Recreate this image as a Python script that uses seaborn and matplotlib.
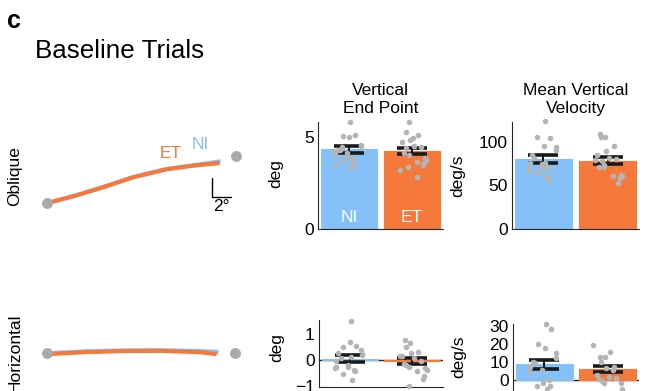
import matplotlib
matplotlib.use("Agg")
import matplotlib.pyplot as plt
import numpy as np
import pandas as pd
import seaborn as sns

# ---- data ----
groups = ["NI", "ET"]

# trajectories (deg), start at origin
obl_target = (19.9, 4.95)
obl_ni_x = [0.0, 3.0, 5.6, 9.1, 12.6, 15.4, 18.3]
obl_ni_y = [0.0, 0.82, 1.6, 2.76, 3.6, 4.0, 4.42]
obl_et_x = [0.0, 3.0, 5.6, 9.1, 12.6, 15.4, 18.2]
obl_et_y = [0.0, 0.8, 1.58, 2.74, 3.58, 3.96, 4.24]

hor_target = (19.8, 0.0)
hor_ni_x = [0.0, 4.0, 8.0, 12.0, 16.0, 18.1]
hor_ni_y = [0.0, 0.2, 0.3, 0.32, 0.24, 0.15]
hor_et_x = [0.0, 4.0, 8.0, 12.0, 16.0, 17.9]
hor_et_y = [-0.1, 0.12, 0.24, 0.26, 0.12, -0.08]

# vertical end point (deg)
vend_mean = [4.35, 4.25]
vend_sem = [0.19, 0.18]
vend_ni = [5.83, 5.14, 5.05, 5.02, 4.57, 4.51, 4.29, 4.29, 4.11, 4.11, 4.02,
           3.9, 3.84, 3.75, 3.57, 3.57, 3.48, 3.39, 4.45]
vend_et = [5.83, 5.29, 5.1, 4.84, 4.75, 4.95, 4.47, 4.4, 4.11, 4.02, 3.84,
           3.75, 3.65, 3.6, 3.48, 3.37, 3.21, 2.81, 4.5]

# mean vertical velocity (deg/s)
vvel_mean = [80.0, 78.0]
vvel_sem = [4.5, 4.0]
vvel_ni = [124, 104, 105, 94.7, 90.8, 94, 85, 81, 75.5, 74.4, 67.9, 69.8,
           69.8, 64, 56.4, 61, 68.6, 75.5]
vvel_et = [109, 105.4, 105, 94.7, 89, 85, 81, 80, 77.4, 71, 71, 62.1, 61,
           60.2, 58.3, 52.5, 73.6, 79.4]

# horizontal end point (deg)
hend_mean = [0.05, -0.04]
hend_sem = [0.15, 0.11]
hend_ni = [1.51, 0.55, 0.51, 0.7, 0.38, 0.19, 0.26, 0.06, -0.06, -0.19,
           -0.26, -0.26, -0.38, -0.54, -0.45, -0.77, -0.32, 0.1]
hend_et = [0.77, 0.64, 0.51, 0.32, 0.26, 0.13, 0.06, -0.06, -0.19, -0.15,
           -0.26, -0.32, -0.38, -0.45, -0.64, -0.73, -1.0, 0.15]

# horizontal velocity (deg/s)
hvel_mean = [8.8, 6.1]
hvel_sem = [2.5, 1.65]
hvel_ni = [30.9, 28, 20.2, 17.5, 14.7, 12, 10, 9.2, 7.4, 5.5, 4.6, -1.5, 0,
           -3.3, -3.3, -5.2]
hvel_et = [19.3, 15.3, 12.9, 12.5, 10.1, 7.4, 6.4, 2.7, 1.8, 0.9, -0.4, 0.5,
           -1.8, -1.6, -5.2, 5.5]

blue = "#85C0F9"
orange = "#F5793A"
dot_gray = "#B4B4B4"
ink = "#262626"

sns.set_style("white")
plt.rcParams["font.family"] = ["Liberation Sans", "DejaVu Sans"]
plt.rcParams["font.size"] = 12.5
plt.rcParams["text.color"] = "black"
plt.rcParams["axes.labelcolor"] = "black"

W, H = 648, 391
fig = plt.figure(figsize=(W / 100, H / 100), dpi=100)


def px_axes(x0, y0, x1, y1):
    return fig.add_axes([x0 / W, 1 - y1 / H, (x1 - x0) / W, (y1 - y0) / H])


# ---- headers ----
fig.text(7 / W, 1 - 28.5 / H, "c", fontsize=18, weight="bold", va="baseline")
fig.text(35 / W, 1 - 58.5 / H, "Baseline Trials", fontsize=18.7, va="baseline")
fig.text(15 / W, 1 - 176 / H, "Oblique", rotation=90, ha="center", va="center")
fig.text(15 / W, 1 - 352.5 / H, "Horizontal", rotation=90, ha="center", va="center")

# ---- trajectory panels ----
SCALE = 9.5  # px per deg


def traj_panel(y_start_px, top_px, bot_px, target, ni_x, ni_y, et_x, et_y):
    ax = px_axes(25, top_px, 255, bot_px)
    ax.set_xlim((25 - 46.7) / SCALE, (255 - 46.7) / SCALE)
    ax.set_ylim((y_start_px - bot_px) / SCALE, (y_start_px - top_px) / SCALE)
    ax.axis("off")
    sns.lineplot(x=ni_x, y=ni_y, sort=False, estimator=None, color=blue,
                 lw=3.0, solid_capstyle="butt", ax=ax)
    sns.lineplot(x=et_x, y=et_y, sort=False, estimator=None, color=orange,
                 lw=3.0, solid_capstyle="butt", ax=ax)
    sns.scatterplot(x=[0, target[0]], y=[0, target[1]], color="#AAAAAA",
                    s=62, linewidth=0, ax=ax, zorder=5)
    return ax


ax_o = traj_panel(203.3, 120, 230, obl_target, obl_ni_x, obl_ni_y, obl_et_x, obl_et_y)
ax_o.text(13.1, 5.2, "ET", color=orange, ha="center", va="center")
ax_o.text(16.2, 6.24, "NI", color=blue, ha="center", va="center")
# 2 deg scale bar
ax_o.plot([17.4, 17.4, 19.4], [2.66, 0.66, 0.66], color="black", lw=1)
ax_o.text(18.4, -0.35, "2°", ha="center", va="center")

traj_panel(353.3, 310, 391, hor_target, hor_ni_x, hor_ni_y, hor_et_x, hor_et_y)


# ---- bar panels ----
def bar_panel(rect, ni, et, means, sems, ylim, yticks, ylabel, lab_x, lab_y,
              title=None, zero_line=False):
    ax = px_axes(*rect)
    if zero_line:
        ax.axhline(0, color=ink, lw=1, zorder=0.5)
    sns.barplot(x=groups, y=means, hue=groups, palette=[blue, orange],
                saturation=1, width=0.9, legend=False, ax=ax, zorder=1)
    for p in ax.patches:
        p.set_edgecolor(p.get_facecolor())
        p.set_linewidth(0.8)
    ax.errorbar([0, 1], means, yerr=sems, fmt="none", ecolor="#1a1a1a",
                elinewidth=1.5, capsize=11, capthick=2.6, zorder=3)
    df = pd.DataFrame({"group": ["NI"] * len(ni) + ["ET"] * len(et),
                       "value": ni + et})
    np.random.seed(3)
    n_before = len(ax.collections)
    sns.stripplot(data=df, x="group", y="value", order=groups, color=dot_gray,
                  size=4, jitter=0.24, linewidth=0, ax=ax, zorder=4)
    for c in ax.collections[n_before:]:
        c.set_clip_on(False)
    ax.set_xlim(-0.49, 1.49)
    ax.set_ylim(*ylim)
    ax.set_yticks(yticks)
    ax.set_xticks([])
    ax.set_xlabel("")
    ax.set_ylabel(ylabel)
    ax.yaxis.set_label_coords(lab_x, lab_y)
    for s in ["top", "right"]:
        ax.spines[s].set_visible(False)
    for s in ["left", "bottom"]:
        ax.spines[s].set_color(ink)
        ax.spines[s].set_linewidth(0.8)
    ax.tick_params(axis="y", direction="in", length=4, width=0.8, colors=ink,
                   labelcolor="black", labelsize=12.5, pad=3)
    if title:
        ax.set_title(title, fontsize=12.5, pad=6, linespacing=1.25)
    return ax


ax1 = bar_panel((318, 121.5, 443, 229), vend_ni, vend_et, vend_mean, vend_sem,
                (0, 5.85), [0, 5], "deg", -0.28, 0.52, "Vertical\nEnd Point")
for i, g in enumerate(groups):
    ax1.text(i, 0.6, g, color="white", ha="center", va="center")

bar_panel((512, 121.7, 639, 229), vvel_ni, vvel_et, vvel_mean, vvel_sem,
          (0, 123), [0, 50, 100], "deg/s", -0.37, 0.5, "Mean Vertical\nVelocity")

bar_panel((319, 320, 443, 386.5), hend_ni, hend_et, hend_mean, hend_sem,
          (-1.03, 1.54), [-1, 0, 1], "deg", -0.28, 0.58, zero_line=True)

bar_panel((513, 324, 639, 401.7), hvel_ni, hvel_et, hvel_mean, hvel_sem,
          (-12, 31), [0, 10, 20, 30], "deg/s", -0.37, 0.575, zero_line=True)

fig.savefig("out.png", dpi=100)
